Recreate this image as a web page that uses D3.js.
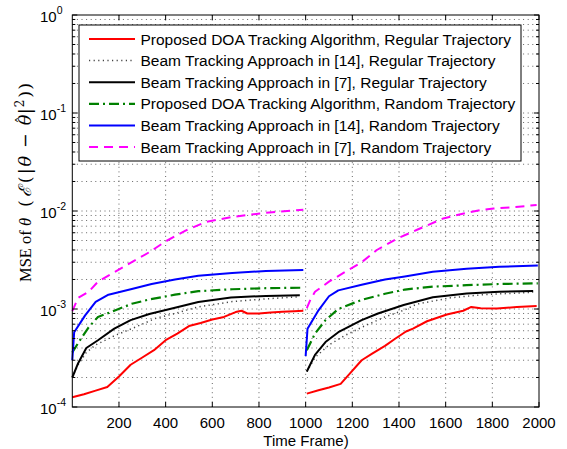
<!DOCTYPE html>
<html>
<head>
<meta charset="utf-8">
<script src="https://cdn.jsdelivr.net/npm/d3@7"></script>
<style>
  body { margin: 0; background: #fff; }
  svg { display: block; }
  text { font-family: "Liberation Sans", Arial, sans-serif; }
</style>
</head>
<body>
<svg id="chart" width="567" height="449"></svg>
<script>
// data, [frame, MSE]; each series has two runs (0-1000, 1000-2000)
const propRegular = [
  [[0,1.26e-4],[50,1.35e-4],[100,1.47e-4],[150,1.6e-4],[200,2.05e-4],[250,2.7e-4],[300,3.2e-4],[350,3.8e-4],
   [400,4.8e-4],[450,5.6e-4],[500,6.7e-4],[550,7.2e-4],[600,7.8e-4],[650,8.3e-4],[700,9.3e-4],[725,9.6e-4],
   [750,9.0e-4],[800,9.0e-4],[850,9.2e-4],[900,9.4e-4],[950,9.5e-4],[990,9.6e-4]],
  [[1005,1.37e-4],[1055,1.48e-4],[1100,1.58e-4],[1150,1.72e-4],[1190,2.2e-4],[1240,3.0e-4],[1285,3.5e-4],
   [1340,4.2e-4],[1385,5.0e-4],[1430,5.9e-4],[1460,6.3e-4],[1520,7.5e-4],[1605,8.8e-4],[1675,9.6e-4],
   [1710,1.05e-3],[1750,1.02e-3],[1820,1.01e-3],[1905,1.05e-3],[1990,1.07e-3]]
];
const beam14Regular = [
  [[0,2.0e-4],[25,2.7e-4],[60,3.6e-4],[100,4.3e-4],[185,5.4e-4],[255,6.3e-4],[355,8.0e-4],[440,9.0e-4],
   [540,1.05e-3],[685,1.19e-3],[830,1.27e-3],[970,1.33e-3]],
  [[1005,2.3e-4],[1040,3.2e-4],[1100,4.3e-4],[1170,5.4e-4],[1240,6.5e-4],[1340,8.3e-4],[1425,9.8e-4],
   [1475,1.12e-3],[1620,1.3e-3],[1760,1.4e-3],[1975,1.48e-3]]
];
const beam7Regular = [
  [[0,2.0e-4],[25,2.8e-4],[60,4.0e-4],[110,4.8e-4],[180,6.3e-4],[250,7.7e-4],[330,8.9e-4],[440,1.03e-3],
   [540,1.18e-3],[680,1.31e-3],[830,1.36e-3],[975,1.38e-3]],
  [[1005,2.3e-4],[1040,3.4e-4],[1085,4.6e-4],[1140,5.8e-4],[1240,7.7e-4],[1310,9.0e-4],[1420,1.1e-3],
   [1545,1.32e-3],[1690,1.44e-3],[1830,1.5e-3],[1975,1.53e-3]]
];
const propRandom = [
  [[0,3.6e-4],[25,4.5e-4],[70,6.5e-4],[110,8.3e-4],[185,9.7e-4],[255,1.13e-3],[330,1.25e-3],[440,1.4e-3],
   [540,1.52e-3],[685,1.59e-3],[830,1.63e-3],[990,1.65e-3]],
  [[1005,3.8e-4],[1040,5.6e-4],[1085,7.7e-4],[1140,1.0e-3],[1240,1.24e-3],[1340,1.43e-3],[1425,1.58e-3],
   [1545,1.69e-3],[1690,1.75e-3],[1830,1.8e-3],[1995,1.83e-3]]
];
const beam14Random = [
  [[0,3.0e-4],[8,5.8e-4],[55,8.6e-4],[100,1.18e-3],[155,1.4e-3],[255,1.6e-3],[340,1.8e-3],[440,2.0e-3],
   [540,2.18e-3],[685,2.33e-3],[830,2.44e-3],[990,2.5e-3]],
  [[1000,3.3e-4],[1008,6.3e-4],[1055,9.7e-4],[1100,1.35e-3],[1140,1.55e-3],[1240,1.77e-3],[1340,2.0e-3],
   [1425,2.15e-3],[1545,2.4e-3],[1690,2.58e-3],[1830,2.7e-3],[1995,2.78e-3]]
];
const beam7Random = [
  [[0,9.5e-4],[25,1.3e-3],[70,1.5e-3],[110,1.9e-3],[170,2.3e-3],[255,3.0e-3],[330,3.8e-3],[400,4.9e-3],
   [485,6.3e-3],[570,7.7e-3],[685,8.7e-3],[830,9.6e-3],[990,1.03e-2]],
  [[1005,1.02e-3],[1020,1.24e-3],[1040,1.5e-3],[1100,1.9e-3],[1170,2.4e-3],[1240,3.0e-3],[1305,4.0e-3],
   [1390,5.2e-3],[1475,6.4e-3],[1590,8.4e-3],[1690,9.6e-3],[1750,1.02e-2],[1805,1.06e-2],[1900,1.1e-2],
   [1990,1.15e-2]]
];

const legendLabels = [
  'Proposed DOA Tracking Algorithm, Regular Trajectory',
  'Beam Tracking Approach in [14], Regular Trajectory',
  'Beam Tracking Approach in [7], Regular Trajectory',
  'Proposed DOA Tracking Algorithm, Random Trajectory',
  'Beam Tracking Approach in [14], Random Trajectory',
  'Beam Tracking Approach in [7], Random Trajectory'
];
const xTicks = [200, 400, 600, 800, 1000, 1200, 1400, 1600, 1800, 2000];
const yTicks = [1e-4, 1e-3, 1e-2, 1e-1, 1];
const yExponents = ['-4', '-3', '-2', '-1', '0'];

const series = [
  {data: propRegular,   color: '#ff0000', width: 2,   dash: null},
  {data: beam14Regular, color: '#444',    width: 1.5, dash: '1.2,3.4'},
  {data: beam7Regular,  color: '#000',    width: 2,   dash: null},
  {data: propRandom,    color: '#008000', width: 2.2, dash: '10,4,2,4'},
  {data: beam14Random,  color: '#0000ff', width: 2,   dash: null},
  {data: beam7Random,   color: '#ff00ff', width: 2,   dash: '9,6'}
];

const svg = d3.select('#chart');
const L = 72.3, R = 539, T = 15, B = 407;

const x = d3.scaleLinear().domain([0, 2000]).range([L, R]);
const y = d3.scaleLog().domain([1e-4, 1]).range([B, T]);

// minor log values
let minors = [];
for (let e = -4; e < 0; ++e) {
  for (let k = 2; k <= 9; ++k) minors.push(k * Math.pow(10, e));
}

// Grid
{
  let g = svg.append('g').attr('class', 'grid')
    .style('stroke', '#666').style('stroke-width', 1).style('stroke-dasharray', '1,3.6');
  g.selectAll('line.v').data(xTicks.filter(d => d < 2000)).enter().append('line')
    .attr('x1', d => x(d)).attr('x2', d => x(d)).attr('y1', B).attr('y2', T);
  g.selectAll('line.h').data(minors.concat(yTicks.slice(1, 4))).enter().append('line')
    .attr('x1', L).attr('x2', R).attr('y1', d => y(d)).attr('y2', d => y(d));
}

// Curves
const line = d3.line().x(d => x(d[0])).y(d => y(d[1]));
{
  let g = svg.append('g').attr('class', 'curves').style('fill', 'none');
  series.forEach(s => {
    s.data.forEach(seg => {
      let p = g.append('path').attr('d', line(seg))
        .style('stroke', s.color).style('stroke-width', s.width)
        .style('stroke-linejoin', 'round');
      if (s.dash) p.style('stroke-dasharray', s.dash);
    });
  });
}

// Box and ticks
{
  let g = svg.append('g').style('stroke', '#000').style('stroke-width', 1);
  g.append('rect').attr('x', L).attr('y', T).attr('width', R - L).attr('height', B - T)
    .style('fill', 'none');
  g.selectAll('line.xt').data(xTicks).enter().append('line')
    .attr('x1', d => x(d)).attr('x2', d => x(d)).attr('y1', B).attr('y2', B - 5);
  g.selectAll('line.xt2').data(xTicks).enter().append('line')
    .attr('x1', d => x(d)).attr('x2', d => x(d)).attr('y1', T).attr('y2', T + 5);
  g.selectAll('line.yt').data(yTicks).enter().append('line')
    .attr('x1', L).attr('x2', L + 5).attr('y1', d => y(d)).attr('y2', d => y(d));
  g.selectAll('line.yt2').data(yTicks).enter().append('line')
    .attr('x1', R).attr('x2', R - 5).attr('y1', d => y(d)).attr('y2', d => y(d));
  g.selectAll('line.ym').data(minors).enter().append('line')
    .attr('x1', L).attr('x2', L + 3).attr('y1', d => y(d)).attr('y2', d => y(d));
  g.selectAll('line.ym2').data(minors).enter().append('line')
    .attr('x1', R).attr('x2', R - 3).attr('y1', d => y(d)).attr('y2', d => y(d));
}

// Tick labels
svg.append('g').selectAll('text').data(xTicks).enter().append('text')
  .attr('x', d => x(d)).attr('y', 428)
  .attr('text-anchor', 'middle').style('font-size', '15px')
  .text(d => d);

{
  let t = svg.append('g').selectAll('text').data(yTicks).enter().append('text')
    .attr('x', 40).attr('y', d => y(d) + 7)
    .style('font-size', '15px');
  t.append('tspan').text('10');
  t.append('tspan').attr('dy', -8).style('font-size', '10.5px').text((d, i) => yExponents[i]);
}

// Axis labels
svg.append('text').attr('x', 306).attr('y', 446).attr('text-anchor', 'middle')
  .style('font-size', '15px').text('Time Frame)');

// y label: roman part, then the math part
{
  const serif = '"Liberation Serif", "DejaVu Serif", serif';
  svg.append('text')
    .attr('transform', 'translate(31,282) rotate(-90)')
    .style('font-family', serif).style('font-size', '16.5px')
    .call(t => {
      t.append('tspan').text('MSE of ');
      t.append('tspan').style('font-style', 'italic').text('θ');
    });
  let m = svg.append('text')
    .attr('transform', 'translate(31,207) rotate(-90)')
    .style('font-family', '"DejaVu Serif", serif').style('font-size', '17.5px');
  m.append('tspan').text('(');
  m.append('tspan').attr('dx', 3).style('font-style', 'italic').text('ℰ');
  m.append('tspan').attr('dx', 3).text('(');
  m.append('tspan').attr('dx', 2).text('|');
  m.append('tspan').attr('dx', 2).style('font-style', 'italic').text('θ');
  m.append('tspan').attr('dx', 8).text('−');
  m.append('tspan').attr('dx', 8).style('font-style', 'italic').text('θ');
  m.append('tspan').attr('dx', -9).attr('dy', -4).style('font-size', '15px').text('ˆ');
  m.append('tspan').attr('dx', 2).attr('dy', 4).text('|');
  m.append('tspan').attr('dx', 1).attr('dy', -7).style('font-size', '12px').text('2');
  m.append('tspan').attr('dy', 7).attr('dx', 2).text(')');
  m.append('tspan').attr('dx', 1).text(')');
}

// Legend
{
  let g = svg.append('g');
  g.append('rect').attr('x', 79).attr('y', 25).attr('width', 442).attr('height', 136)
    .style('fill', '#fff').style('stroke', '#000').style('stroke-width', 1);
  let rows = g.selectAll('g.row').data(series).enter().append('g')
    .attr('transform', (d, i) => `translate(0, ${39 + i * 21.6})`);
  rows.append('line').attr('x1', 89).attr('x2', 135).attr('y1', 0).attr('y2', 0)
    .style('stroke', d => d.color).style('stroke-width', d => d.width)
    .style('stroke-dasharray', d => d.dash);
  rows.append('text').attr('x', 140.5).attr('y', 5.5)
    .style('font-size', '15.5px')
    .text((d, i) => legendLabels[i]);
}
</script>
</body>
</html>
